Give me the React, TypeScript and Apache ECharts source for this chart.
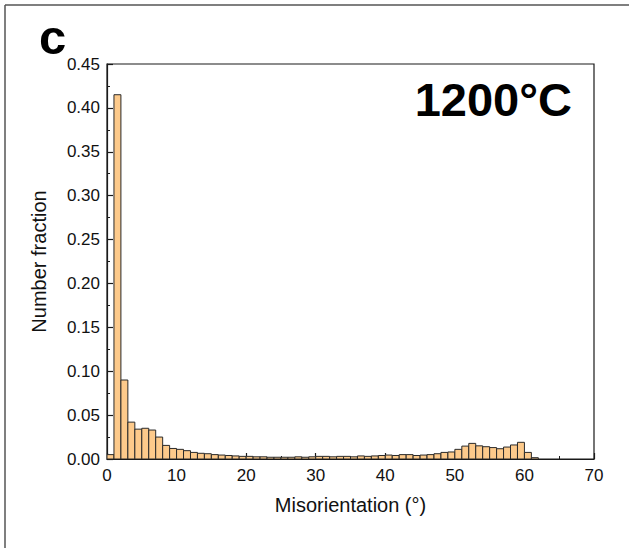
import React, { useEffect, useRef } from "react";
import * as echarts from "echarts";

// Histogram bins: bin k covers [k, k+1) degrees
const fractions: number[] = [
  0.005, 0.415, 0.09, 0.042, 0.034, 0.035, 0.033, 0.025, 0.0155, 0.012, 0.011,
  0.0095, 0.0075, 0.0065, 0.006, 0.005, 0.0045, 0.004, 0.0035, 0.003,
  0.003, 0.0025, 0.0025, 0.002, 0.002, 0.002, 0.002, 0.0025, 0.002, 0.0025,
  0.003, 0.003, 0.0025, 0.003, 0.003, 0.0025, 0.0035, 0.003, 0.0035, 0.004,
  0.0045, 0.004,
  0.005, 0.005, 0.004, 0.0045, 0.005, 0.006, 0.0075, 0.008, 0.011, 0.0147,
  0.0178, 0.015, 0.014, 0.013, 0.0117, 0.0136, 0.016, 0.019, 0.0075, 0.0015,
];
const binWidth = 1;
const xTicks = { min: 0, max: 70, interval: 10 };
const yTicks = { min: 0, max: 0.45, interval: 0.05 };
const panelLabel = "c";
const tempLabel = "1200°C";
const xName = "Misorientation (°)";
const yName = "Number fraction";

export default function App() {
  const ref = useRef<HTMLDivElement>(null);
  useEffect(() => {
    if (!ref.current) return;
    const chart = echarts.init(ref.current, null, { renderer: "svg" });
    const font = "'Liberation Sans', Arial, sans-serif";
    const data = fractions.map((v, i) => [i * binWidth, v]);
    chart.setOption({
      animation: false,
      backgroundColor: "#fff",
      textStyle: { fontFamily: font },
      grid: {
        left: 107,
        right: 35,
        top: 64,
        bottom: 89,
        show: true,
        borderColor: "#1a1a1a",
        borderWidth: 1.2,
        backgroundColor: "transparent",
      },
      graphic: [
        {
          type: "line",
          shape: { x1: 5, y1: 5, x2: 629, y2: 5 },
          style: { stroke: "#555", lineWidth: 1.5 },
        },
        {
          type: "line",
          shape: { x1: 5, y1: 5, x2: 5, y2: 548 },
          style: { stroke: "#555", lineWidth: 1.5 },
        },
        {
          type: "text",
          left: 39,
          top: 12,
          style: {
            text: panelLabel,
            font: `bold 49px ${font}`,
            fill: "#000",
          },
        },
        {
          type: "text",
          right: 57,
          top: 76,
          style: {
            text: tempLabel,
            font: `bold 47px ${font}`,
            fill: "#000",
          },
        },
      ],
      xAxis: {
        type: "value",
        min: xTicks.min,
        max: xTicks.max,
        interval: xTicks.interval,
        name: xName,
        nameLocation: "middle",
        nameGap: 36,
        nameTextStyle: { fontSize: 20, color: "#111", fontFamily: font },
        axisLine: { show: true, lineStyle: { color: "#1a1a1a", width: 1.2 } },
        axisTick: { show: true, inside: true, length: 6, lineStyle: { color: "#1a1a1a", width: 1.2 } },
        minorTick: { show: true, splitNumber: 2, length: 3, lineStyle: { color: "#1a1a1a", width: 1 } },
        axisLabel: { fontSize: 17, color: "#111", margin: 8, fontFamily: font },
        splitLine: { show: false },
      },
      yAxis: {
        type: "value",
        min: yTicks.min,
        max: yTicks.max,
        interval: yTicks.interval,
        name: yName,
        nameLocation: "middle",
        nameGap: 58,
        nameTextStyle: { fontSize: 20, color: "#111", fontFamily: font },
        axisLine: { show: true, lineStyle: { color: "#1a1a1a", width: 1.2 } },
        axisTick: { show: true, inside: true, length: 6, lineStyle: { color: "#1a1a1a", width: 1.2 } },
        minorTick: { show: true, splitNumber: 2, length: 3, lineStyle: { color: "#1a1a1a", width: 1 } },
        axisLabel: {
          fontSize: 17,
          color: "#111",
          margin: 7,
          fontFamily: font,
          formatter: (v: number) => v.toFixed(2),
        },
        splitLine: { show: false },
      },
      series: [
        {
          type: "custom",
          data,
          encode: { x: 0, y: 1 },
          clip: true,
          renderItem: (params: any, api: any) => {
            const x0 = api.value(0);
            const v = api.value(1);
            const p1 = api.coord([x0, v]);
            const p2 = api.coord([x0 + binWidth, 0]);
            return {
              type: "rect",
              shape: {
                x: p1[0],
                y: p1[1],
                width: p2[0] - p1[0],
                height: p2[1] - p1[1],
              },
              style: {
                fill: "#fdca8b",
                stroke: "#2a2a2a",
                lineWidth: 1,
              },
            };
          },
        },
      ],
    });
    return () => chart.dispose();
  }, []);
  return (
    <div
      ref={ref}
      style={{ position: "absolute", left: 0, top: 0, width: 629, height: 548 }}
    />
  );
}
